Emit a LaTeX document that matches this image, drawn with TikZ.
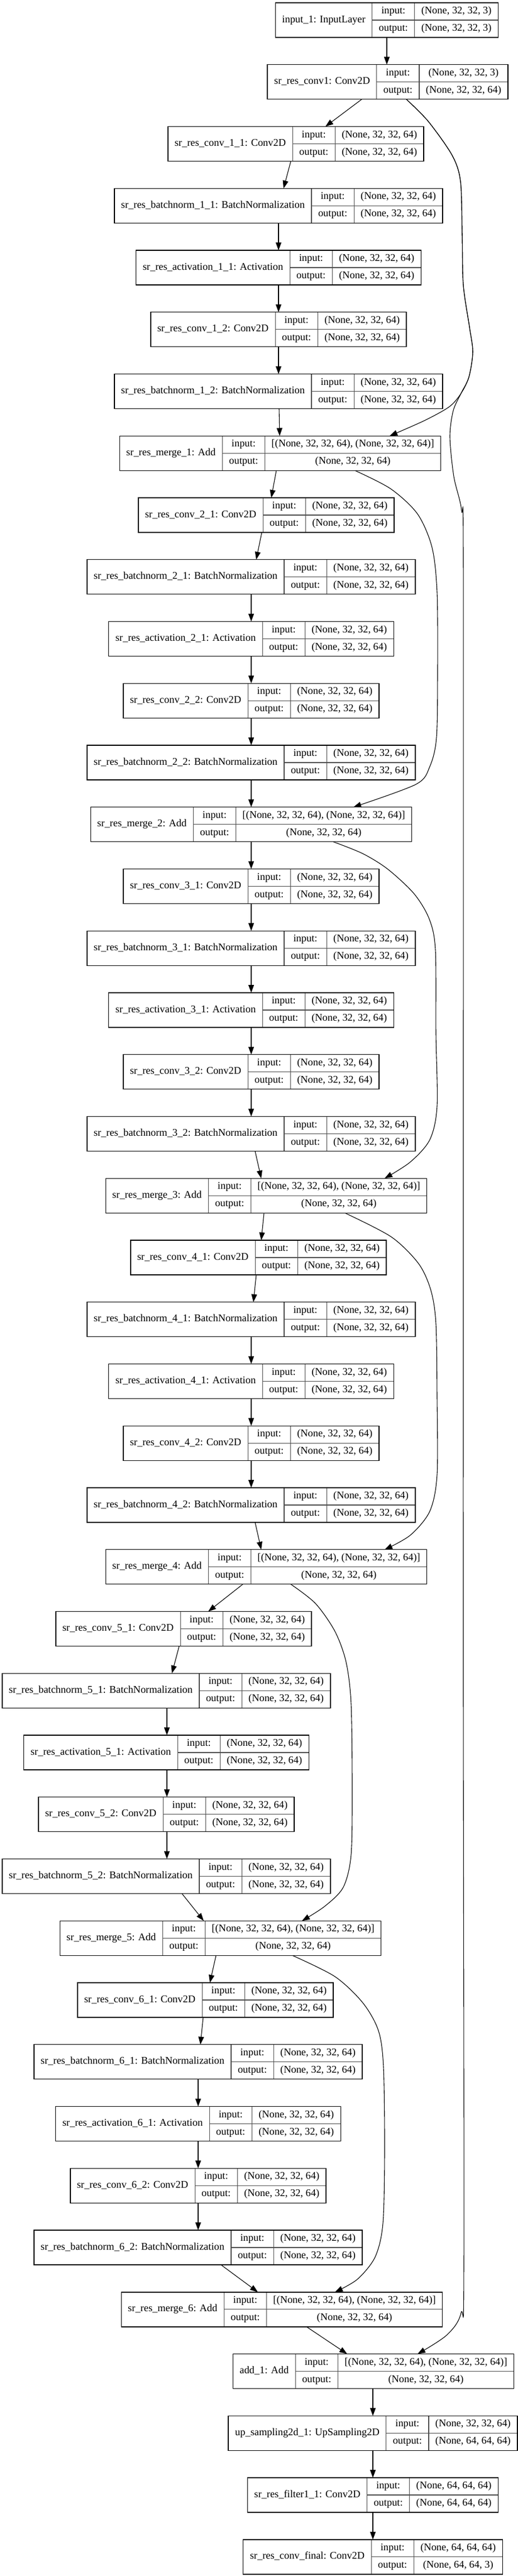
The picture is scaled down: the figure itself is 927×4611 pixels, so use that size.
\documentclass[tikz,border=0pt]{standalone}
\usepackage{fontspec}
\setmainfont{Liberation Serif}
\usetikzlibrary{arrows.meta}
\newcommand\lfont{\fontsize{18.4pt}{22pt}\selectfont}
\newdimen\wN \newdimen\wL \newdimen\wV \newdimen\tot \newdimen\lx \newdimen\ty
\newdimen\mA \newdimen\mB
\newcommand\V{(None, 32, 32, 64)}
\newcommand\M{[(None, 32, 32, 64), (None, 32, 32, 64)]}
\tikzset{
 cell/.style={draw=black!70, line width=1.2pt, inner sep=0pt, outer sep=0pt, font=\lfont,
   text height=12.6pt, text depth=4.4pt, align=center, anchor=north west},
 rec/.style={inner sep=0pt, outer sep=0pt, anchor=north west, minimum height=62pt},
 edge/.style={draw=black, line width=1.1pt, -{Triangle[length=14pt,width=10pt]}},
}
\newcommand\measure[3]{%
 \pgfinterruptpicture
  \settowidth{\mA}{\lfont #1}\global\wN=\mA
  \settowidth{\mA}{\lfont output:}\global\wL=\mA
  \settowidth{\mA}{\lfont #2}\settowidth{\mB}{\lfont #3}%
  \ifdim\mB>\mA \mA=\mB\fi
  \global\wV=\mA
 \endpgfinterruptpicture}
\newcommand\layer[6]{%
 \measure{#4}{#5}{#6}%
 \advance\wN by 24pt\advance\wL by 24pt\advance\wV by 24pt%
 \tot=\wN \advance\tot by \wL \advance\tot by \wV
 \lx=#2pt \advance\lx by -0.5\tot
 \pgfmathsetlength\ty{-5-110.75*#3}%
 \node[rec, minimum width=\tot] (#1) at (\the\lx,\the\ty) {};
 \node[cell, minimum width=\wN, minimum height=62pt] (#1-n) at (#1.north west) {#4};
 \node[cell, minimum width=\wL, minimum height=31pt] (#1-li) at (#1-n.north east) {input:};
 \node[cell, minimum width=\wL, minimum height=31pt] (#1-lo) at (#1-li.south west) {output:};
 \node[cell, minimum width=\wV, minimum height=31pt] (#1-vi) at (#1-li.north east) {#5};
 \node[cell, minimum width=\wV, minimum height=31pt] (#1-vo) at (#1-vi.south west) {#6};
 \draw[black, line width=1.4pt] (#1.north west) rectangle (#1.south east);%
}
\newcommand\std[4]{\layer{#1}{#2}{#3}{#4}{\V}{\V}}
\newcommand\E[4]{\draw[edge] (#1.south -| #2,0) -- (#3.north -| #4,0);}
\begin{document}
\begin{tikzpicture}[x=1pt,y=-1pt]
\path[use as bounding box, fill=white] (0,0) rectangle (927,4611);
\layer{n0}{693}{0}{input\_1: InputLayer}{(None, 32, 32, 3)}{(None, 32, 32, 3)}
\layer{n1}{694.5}{1}{sr\_res\_conv1: Conv2D}{(None, 32, 32, 3)}{\V}
\std{n2}{530}{2}{sr\_res\_conv\_1\_1: Conv2D}
\std{n3}{499}{3}{sr\_res\_batchnorm\_1\_1: BatchNormalization}
\std{n4}{499}{4}{sr\_res\_activation\_1\_1: Activation}
\std{n5}{499}{5}{sr\_res\_conv\_1\_2: Conv2D}
\std{n6}{499}{6}{sr\_res\_batchnorm\_1\_2: BatchNormalization}
\layer{n7}{502}{7}{sr\_res\_merge\_1: Add}{\M}{\V}
\std{n8}{477}{8}{sr\_res\_conv\_2\_1: Conv2D}
\std{n9}{450}{9}{sr\_res\_batchnorm\_2\_1: BatchNormalization}
\std{n10}{450}{10}{sr\_res\_activation\_2\_1: Activation}
\std{n11}{450}{11}{sr\_res\_conv\_2\_2: Conv2D}
\std{n12}{450}{12}{sr\_res\_batchnorm\_2\_2: BatchNormalization}
\layer{n13}{450}{13}{sr\_res\_merge\_2: Add}{\M}{\V}
\std{n14}{450}{14}{sr\_res\_conv\_3\_1: Conv2D}
\std{n15}{450}{15}{sr\_res\_batchnorm\_3\_1: BatchNormalization}
\std{n16}{450}{16}{sr\_res\_activation\_3\_1: Activation}
\std{n17}{450}{17}{sr\_res\_conv\_3\_2: Conv2D}
\std{n18}{450}{18}{sr\_res\_batchnorm\_3\_2: BatchNormalization}
\layer{n19}{477}{19}{sr\_res\_merge\_3: Add}{\M}{\V}
\std{n20}{463}{20}{sr\_res\_conv\_4\_1: Conv2D}
\std{n21}{450}{21}{sr\_res\_batchnorm\_4\_1: BatchNormalization}
\std{n22}{450}{22}{sr\_res\_activation\_4\_1: Activation}
\std{n23}{450}{23}{sr\_res\_conv\_4\_2: Conv2D}
\std{n24}{450}{24}{sr\_res\_batchnorm\_4\_2: BatchNormalization}
\layer{n25}{477}{25}{sr\_res\_merge\_4: Add}{\M}{\V}
\std{n26}{329}{26}{sr\_res\_conv\_5\_1: Conv2D}
\std{n27}{298}{27}{sr\_res\_batchnorm\_5\_1: BatchNormalization}
\std{n28}{298}{28}{sr\_res\_activation\_5\_1: Activation}
\std{n29}{298}{29}{sr\_res\_conv\_5\_2: Conv2D}
\std{n30}{298}{30}{sr\_res\_batchnorm\_5\_2: BatchNormalization}
\layer{n31}{395}{31}{sr\_res\_merge\_5: Add}{\M}{\V}
\std{n32}{368}{32}{sr\_res\_conv\_6\_1: Conv2D}
\std{n33}{355}{33}{sr\_res\_batchnorm\_6\_1: BatchNormalization}
\std{n34}{355}{34}{sr\_res\_activation\_6\_1: Activation}
\std{n35}{355}{35}{sr\_res\_conv\_6\_2: Conv2D}
\std{n36}{355}{36}{sr\_res\_batchnorm\_6\_2: BatchNormalization}
\layer{n37}{505}{37}{sr\_res\_merge\_6: Add}{\M}{\V}
\layer{n38}{669}{38}{add\_1: Add}{\M}{\V}
\layer{n39}{668}{39}{up\_sampling2d\_1: UpSampling2D}{\V}{(None, 64, 64, 64)}
\layer{n40}{668}{40}{sr\_res\_filter1\_1: Conv2D}{(None, 64, 64, 64)}{(None, 64, 64, 64)}
\layer{n41}{668}{41}{sr\_res\_conv\_final: Conv2D}{(None, 64, 64, 64)}{(None, 64, 64, 3)}
% main chain
\E{n0}{693}{n1}{693}
\E{n1}{648}{n2}{583}
\E{n2}{521}{n3}{508}
\E{n3}{499}{n4}{499}
\E{n4}{499}{n5}{499}
\E{n5}{499}{n6}{499}
\E{n6}{500}{n7}{501}
\E{n7}{495}{n8}{486}
\E{n8}{469}{n9}{459}
\E{n9}{450}{n10}{450}
\E{n10}{450}{n11}{450}
\E{n11}{450}{n12}{450}
\E{n12}{450}{n13}{450}
\E{n13}{450}{n14}{450}
\E{n14}{450}{n15}{450}
\E{n15}{450}{n16}{450}
\E{n16}{450}{n17}{450}
\E{n17}{450}{n18}{450}
\E{n18}{457}{n19}{468}
\E{n19}{473}{n20}{468}
\E{n20}{459}{n21}{454}
\E{n21}{450}{n22}{450}
\E{n22}{450}{n23}{450}
\E{n23}{450}{n24}{450}
\E{n24}{457}{n25}{468}
\E{n25}{435}{n26}{373}
\E{n26}{321}{n27}{308}
\E{n27}{299}{n28}{299}
\E{n28}{299}{n29}{299}
\E{n29}{299}{n30}{299}
\E{n30}{326}{n31}{365}
\E{n31}{387}{n32}{376}
\E{n32}{364}{n33}{359}
\E{n33}{355}{n34}{355}
\E{n34}{355}{n35}{355}
\E{n35}{355}{n36}{355}
\E{n36}{396}{n37}{462}
\E{n37}{549}{n38}{622}
\E{n38}{668}{n39}{668}
\E{n39}{668}{n40}{668}
\E{n40}{668}{n41}{668}
% skip connections
\draw[edge] plot[smooth, tension=0.5] coordinates {(n1.south -| 728,0) (767,217) (810,278) (825,325) (828,420) (830,510) (841,585) (847,630) (840,675) (826,704) (805,728) (760,753) (n7.north -| 698,0)};
\draw[edge] plot[smooth, tension=0.5] coordinates {(n1.south -| 728,0) (767,217) (810,278) (825,325) (828,420) (830,510) (841,585) (847,630) (840,675) (826,704) (812,735) (806,782) (813,853) (827,914) (830,1000) (830,2000) (830,3000) (831,4050) (826,4140) (800,4180) (n38.north -| 748,0)};
\draw[edge] plot[smooth, tension=0.5] coordinates {(n7.south -| 636,0) (700,875) (748,920) (774,980) (783,1060) (784,1200) (782,1320) (770,1372) (745,1404) (n13.north -| 633,0)};
\draw[edge] plot[smooth, tension=0.5] coordinates {(n13.south -| 597,0) (650,1528) (695,1556) (742,1600) (769,1645) (780,1700) (781,1850) (783,1980) (770,2040) (735,2080) (n19.north -| 689,0)};
\draw[edge] plot[smooth, tension=0.5] coordinates {(n19.south -| 618,0) (701,2214) (750,2262) (772,2310) (781,2370) (783,2500) (783,2640) (770,2705) (735,2748) (n25.north -| 689,0)};
\draw[edge] plot[smooth, tension=0.5] coordinates {(n25.south -| 521,0) (565,2870) (600,2920) (620,2975) (629,3050) (631,3200) (629,3320) (615,3378) (582,3412) (n31.north -| 541,0)};
\draw[edge] plot[smooth, tension=0.5] coordinates {(n31.south -| 524,0) (600,3538) (650,3585) (678,3635) (687,3700) (689,3850) (686,3980) (672,4040) (640,4080) (n37.north -| 600,0)};
\end{tikzpicture}
\end{document}
